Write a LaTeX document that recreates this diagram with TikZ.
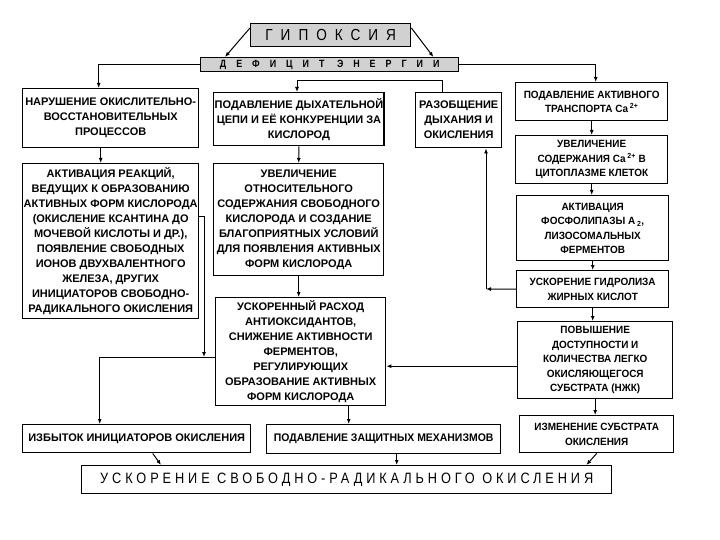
\documentclass[tikz,border=0pt]{standalone}
\usepackage{fontspec}
\setmainfont{Liberation Sans}
\newfontfamily\titlefont[LetterSpace=50,FakeStretch=0.85]{Liberation Sans}
\newfontfamily\deffont[LetterSpace=95,FakeStretch=0.85]{Liberation Sans}
\newfontfamily\widefont[LetterSpace=26,FakeStretch=0.85]{Liberation Sans}
\newfontfamily\narrowfont[FakeStretch=0.95]{Liberation Sans}
\usetikzlibrary{arrows.meta}

\tikzset{
  box/.style={draw, line width=1.4pt, anchor=north west, align=center, inner sep=1pt,
    font=\fontsize{11}{15}\selectfont\bfseries},
  rbox/.style={box, font=\narrowfont\fontsize{10.5}{14.5}\selectfont\bfseries},
  headbox/.style={box, fill=black!18},
  arr/.style={line width=1pt, -{Latex[length=5pt,width=4pt]}}
}

\begin{document}
\begin{tikzpicture}[x=1pt,y=-1pt]
  \useasboundingbox (0,0) rectangle (720,540);

  \node[headbox, minimum width=160pt, minimum height=23pt, font=\titlefont\fontsize{16}{16}\selectfont] (hyp) at (250,23) {ГИПОКСИЯ};
  \node[headbox, minimum width=258pt, minimum height=14pt, font=\deffont\fontsize{10.5}{10.5}\selectfont\bfseries] (def) at (200,57) {ДЕФИЦИТ ЭНЕРГИИ};

  \node[box, minimum width=176pt, minimum height=59pt] (b1) at (22,88) {НАРУШЕНИЕ ОКИСЛИТЕЛЬНО-\\ВОССТАНОВИТЕЛЬНЫХ\\ПРОЦЕССОВ};
  \node[box, minimum width=176pt, minimum height=155pt] (b1b) at (22,163) {АКТИВАЦИЯ РЕАКЦИЙ,\\ВЕДУЩИХ К ОБРАЗОВАНИЮ\\АКТИВНЫХ ФОРМ КИСЛОРОДА\\(ОКИСЛЕНИЕ КСАНТИНА ДО\\МОЧЕВОЙ КИСЛОТЫ И ДР.),\\ПОЯВЛЕНИЕ СВОБОДНЫХ\\ИОНОВ ДВУХВАЛЕНТНОГО\\ЖЕЛЕЗА, ДРУГИХ\\ИНИЦИАТОРОВ СВОБОДНО-\\РАДИКАЛЬНОГО ОКИСЛЕНИЯ};

  \node[box, minimum width=170pt, minimum height=53pt] (b2) at (213,92) {ПОДАВЛЕНИЕ ДЫХАТЕЛЬНОЙ\\ЦЕПИ И ЕЁ КОНКУРЕНЦИИ ЗА\\КИСЛОРОД};
  \node[box, minimum width=170pt, minimum height=112pt] (b2b) at (213,163) {УВЕЛИЧЕНИЕ\\ОТНОСИТЕЛЬНОГО\\СОДЕРЖАНИЯ СВОБОДНОГО\\КИСЛОРОДА И СОЗДАНИЕ\\БЛАГОПРИЯТНЫХ УСЛОВИЙ\\ДЛЯ ПОЯВЛЕНИЯ АКТИВНЫХ\\ФОРМ КИСЛОРОДА};
  \node[box, minimum width=170pt, minimum height=108pt] (b3) at (215,297) {УСКОРЕННЫЙ РАСХОД\\АНТИОКСИДАНТОВ,\\СНИЖЕНИЕ АКТИВНОСТИ\\ФЕРМЕНТОВ,\\РЕГУЛИРУЮЩИХ\\ОБРАЗОВАНИЕ АКТИВНЫХ\\ФОРМ КИСЛОРОДА};

  \node[box, minimum width=86pt, minimum height=55pt] (raz) at (415,92) {РАЗОБЩЕНИЕ\\ДЫХАНИЯ И\\ОКИСЛЕНИЯ};

  \node[rbox, minimum width=152pt, minimum height=38pt] (r1) at (515,82) {ПОДАВЛЕНИЕ АКТИВНОГО\\ТРАНСПОРТА Ca\,\textsuperscript{2+}};
  \node[rbox, minimum width=152pt, minimum height=48pt] (r2) at (515,135) {УВЕЛИЧЕНИЕ\\СОДЕРЖАНИЯ Ca\,\textsuperscript{2+} В\\ЦИТОПЛАЗМЕ КЛЕТОК};
  \node[rbox, minimum width=152pt, minimum height=65pt] (r3) at (516,195) {АКТИВАЦИЯ\\ФОСФОЛИПАЗЫ А\,\textsubscript{2},\\ЛИЗОСОМАЛЬНЫХ\\ФЕРМЕНТОВ};
  \node[rbox, minimum width=152pt, minimum height=37pt] (r4) at (516,270) {УСКОРЕНИЕ ГИДРОЛИЗА\\ЖИРНЫХ КИСЛОТ};
  \node[rbox, minimum width=155pt, minimum height=77pt] (r5) at (517,321) {ПОВЫШЕНИЕ\\ДОСТУПНОСТИ И\\КОЛИЧЕСТВА ЛЕГКО\\ОКИСЛЯЮЩЕГОСЯ\\СУБСТРАТА (НЖК)};
  \node[rbox, minimum width=154pt, minimum height=37pt] (r6) at (519,415) {ИЗМЕНЕНИЕ СУБСТРАТА\\ОКИСЛЕНИЯ};

  \node[box, minimum width=228pt, minimum height=28pt] (izb) at (22,424) {ИЗБЫТОК ИНИЦИАТОРОВ ОКИСЛЕНИЯ};
  \node[rbox, minimum width=234pt, minimum height=29pt, font=\narrowfont\fontsize{11}{15}\selectfont\bfseries] (pod) at (266,424) {ПОДАВЛЕНИЕ ЗАЩИТНЫХ МЕХАНИЗМОВ};
  \node[box, minimum width=530pt, minimum height=28pt, font=\widefont\fontsize{15}{15}\selectfont] (fin) at (81,465) {УСКОРЕНИЕ СВОБОДНО-РАДИКАЛЬНОГО ОКИСЛЕНИЯ};

  \coordinate (top2) at (297,81);
  \coordinate (j1) at (204,357);
  \coordinate (j2) at (486,289);

  \draw[arr] ([yshift=-5pt]hyp.north west) -- ([xshift=25pt]def.north west);
  \draw[arr] ([yshift=-5pt]hyp.north east) -- ([xshift=-26pt]def.north east);
  \draw[arr] (def.west) -| ([xshift=-12pt]b1.north);
  \draw[arr] (def.east) -| ([xshift=4pt]r1.north);
  \draw[arr] ([xshift=-16pt]raz.north) |- (top2) -- (top2 |- b2.north);

  \draw[arr] ([xshift=-10pt]b1.south) -- ([xshift=-10pt]b1b.north);
  \draw[arr] (b2.south) -- (b2b.north);
  \draw[arr] (b2b.south) -- (b2b.south |- b3.north);
  \draw[arr] ([yshift=25pt]b1b.east) -| (j1);
  \draw[arr] ([yshift=-6pt]b3.west) -| ([xshift=-37pt]izb.north);
  \draw[arr] ([xshift=48pt]b3.south) -- ([xshift=48pt]b3.south |- pod.north);

  \draw[arr] (r1.south) -- (r1.south |- r2.north);
  \draw[arr] (r2.south) -- (r2.south |- r3.north);
  \draw[arr] (r3.south) -- (r3.south |- r4.north);
  \draw[arr] (r4.south) -- (r4.south |- r5.north);
  \draw[arr] (r5.south) -- (r5.south |- r6.north);
  \draw[arr] (r4.west) -- (j2);
  \draw[arr] (j2) -- (j2 |- raz.south);
  \draw[arr] ([yshift=-6pt]r5.west) -- ([yshift=-6pt]r5.west -| b3.east);

  \draw[arr] ([xshift=16pt]izb.south) -- ([xshift=80pt]fin.north west);
  \draw[arr] ([xshift=13pt]pod.south) -- ([xshift=13pt]pod.south |- fin.north);
  \draw[arr] (r6.south) -- ([xshift=-26pt]fin.north east);
\end{tikzpicture}
\end{document}
